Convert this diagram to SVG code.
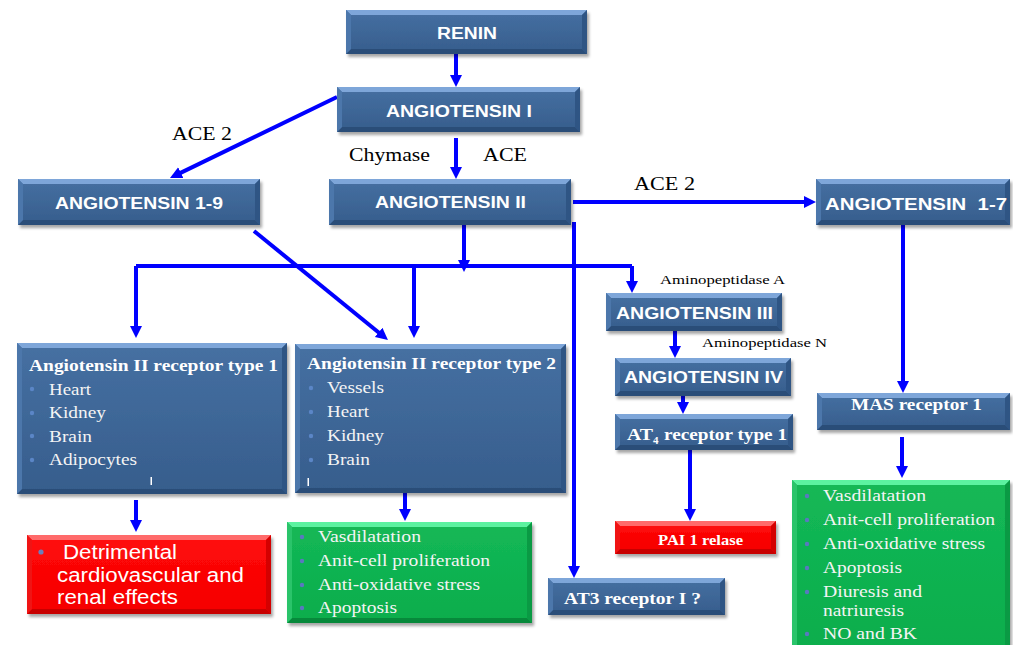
<svg xmlns="http://www.w3.org/2000/svg" width="1013" height="645" viewBox="0 0 1013 645">
<defs>
<linearGradient id="gBlue" x1="0" y1="0" x2="0" y2="1"><stop offset="0" stop-color="#4670a2"/><stop offset="1" stop-color="#365d8c"/></linearGradient>
<linearGradient id="gGreen" x1="0" y1="0" x2="0" y2="1"><stop offset="0" stop-color="#14b856"/><stop offset="1" stop-color="#0aad4c"/></linearGradient>
<linearGradient id="gRed" x1="0" y1="0" x2="0" y2="1"><stop offset="0" stop-color="#ff0a0a"/><stop offset="1" stop-color="#f50000"/></linearGradient>
<filter id="sh" x="-5%" y="-10%" width="115%" height="130%"><feDropShadow dx="2" dy="3" stdDeviation="1.5" flood-color="#000" flood-opacity="0.35"/></filter>
<marker id="ah" markerUnits="userSpaceOnUse" markerWidth="14" markerHeight="14" refX="2" refY="6" orient="auto"><path d="M0,0 L12,6 L0,12 z" fill="#0000ff"/></marker>
</defs>
<style>
.bb{fill:url(#gBlue)} .bt{fill:#7ea6d9} .bl{fill:#4c77ab} .br{fill:#2f5584} .bo{fill:#2a4d78}
.gb{fill:url(#gGreen)} .gt{fill:#5cf2a0} .gl{fill:#2ac46a} .gr{fill:#0a9a44} .go{fill:#07893b}
.rb{fill:url(#gRed)} .rt{fill:#ff6a6a} .rl{fill:#f01414} .rr{fill:#d40000} .ro{fill:#c80000}
.hd{font-family:"Liberation Sans",Arial,sans-serif;font-weight:bold;font-size:16px;fill:#ffffff}
.ttl{font-family:"Liberation Serif","Times New Roman",serif;font-weight:bold;font-size:17px;fill:#ffffff}
.it{font-family:"Liberation Serif","Times New Roman",serif;font-size:16px;fill:#f4f4f4}
.lb{font-family:"Liberation Serif","Times New Roman",serif;font-size:19px;fill:#000000}
.ap{font-family:"Liberation Serif","Times New Roman",serif;font-size:13.5px;fill:#000000}
.rd{font-family:"Liberation Sans",Arial,sans-serif;font-size:19.5px;fill:#ffffff}
.dot{fill:#5b86c6}
.dotg{fill:#5a78c0}
.cn{stroke:#0000ff;stroke-width:4;fill:none}
.ar{marker-end:url(#ah)}
.mk{fill:#ffffff}
</style>

<g id="connectors">
<path class="cn ar" d="M456,54 V77"/>
<path class="cn ar" d="M456,138 V169"/>
<path class="cn ar" d="M337,97 L179,173.6"/>
<path class="cn ar" d="M573,202 H806"/>
<path class="cn" d="M136,266 H632"/>
<path class="cn ar" d="M632,266 V283"/>
<path class="cn ar" d="M136,266 V328"/>
<path class="cn ar" d="M414,266 V328"/>
<path class="cn ar" d="M464,225 V262"/>
<path class="cn ar" d="M254,231 L380.2,333.7"/>
<path class="cn ar" d="M574,222 V568"/>
<path class="cn ar" d="M903,225 V383"/>
<path class="cn ar" d="M675,331 V348"/>
<path class="cn ar" d="M683,396 V404"/>
<path class="cn ar" d="M690,450 V511"/>
<path class="cn ar" d="M902,437 V468"/>
<path class="cn ar" d="M136,500 V522"/>
<path class="cn ar" d="M405,493 V511"/>
</g>

<g id="labels">
<text class="lb" x="172" y="140" textLength="60" lengthAdjust="spacingAndGlyphs">ACE 2</text>
<text class="lb" x="349" y="161" textLength="81" lengthAdjust="spacingAndGlyphs">Chymase</text>
<text class="lb" x="483" y="161" textLength="44" lengthAdjust="spacingAndGlyphs">ACE</text>
<text class="lb" x="634" y="190" textLength="61" lengthAdjust="spacingAndGlyphs">ACE 2</text>
<text class="ap" x="660" y="284" textLength="125" lengthAdjust="spacingAndGlyphs">Aminopeptidase A</text>
<text class="ap" x="702" y="347" textLength="125" lengthAdjust="spacingAndGlyphs">Aminopeptidase N</text>
</g>

<g id="renin">
<rect class="bb" x="346" y="10" width="241" height="44" filter="url(#sh)"/>
<polygon class="bt" points="346,10 587,10 582,15 351,15"/>
<polygon class="bo" points="346,54 587,54 582,49 351,49"/>
<polygon class="bl" points="346,10 351,15 351,49 346,54"/>
<polygon class="br" points="587,10 582,15 582,49 587,54"/>
<text class="hd" x="437" y="39" textLength="60" lengthAdjust="spacingAndGlyphs">RENIN</text>
</g>

<g id="ang1">
<rect class="bb" x="337" y="87" width="243" height="45" filter="url(#sh)"/>
<polygon class="bt" points="337,87 580,87 575,92 342,92"/>
<polygon class="bo" points="337,132 580,132 575,127 342,127"/>
<polygon class="bl" points="337,87 342,92 342,127 337,132"/>
<polygon class="br" points="580,87 575,92 575,127 580,132"/>
<text class="hd" x="386" y="117" textLength="146" lengthAdjust="spacingAndGlyphs">ANGIOTENSIN I</text>
</g>

<g id="ang19">
<rect class="bb" x="18" y="179" width="242" height="46" filter="url(#sh)"/>
<polygon class="bt" points="18,179 260,179 255,184 23,184"/>
<polygon class="bo" points="18,225 260,225 255,220 23,220"/>
<polygon class="bl" points="18,179 23,184 23,220 18,225"/>
<polygon class="br" points="260,179 255,184 255,220 260,225"/>
<text class="hd" x="55" y="209" textLength="168" lengthAdjust="spacingAndGlyphs">ANGIOTENSIN 1-9</text>
</g>

<g id="ang2">
<rect class="bb" x="329" y="179" width="242" height="46" filter="url(#sh)"/>
<polygon class="bt" points="329,179 571,179 566,184 334,184"/>
<polygon class="bo" points="329,225 571,225 566,220 334,220"/>
<polygon class="bl" points="329,179 334,184 334,220 329,225"/>
<polygon class="br" points="571,179 566,184 566,220 571,225"/>
<text class="hd" x="375" y="208" textLength="151" lengthAdjust="spacingAndGlyphs">ANGIOTENSIN II</text>
</g>

<g id="ang17">
<rect class="bb" x="816" y="179" width="194" height="46" filter="url(#sh)"/>
<polygon class="bt" points="816,179 1010,179 1005,184 821,184"/>
<polygon class="bo" points="816,225 1010,225 1005,220 821,220"/>
<polygon class="bl" points="816,179 821,184 821,220 816,225"/>
<polygon class="br" points="1010,179 1005,184 1005,220 1010,225"/>
<text class="hd" x="825" y="210" textLength="182" lengthAdjust="spacingAndGlyphs" xml:space="preserve">ANGIOTENSIN  1-7</text>
</g>

<g id="at1">
<rect class="bb" x="17" y="343" width="270" height="151" filter="url(#sh)"/>
<polygon class="bt" points="17,343 287,343 282,348 22,348"/>
<polygon class="bo" points="17,494 287,494 282,489 22,489"/>
<polygon class="bl" points="17,343 22,348 22,489 17,494"/>
<polygon class="br" points="287,343 282,348 282,489 287,494"/>
<text class="ttl" x="29" y="371" textLength="249" lengthAdjust="spacingAndGlyphs">Angiotensin II receptor type 1</text>
<circle class="dot" cx="32" cy="389" r="2.2"/>
<circle class="dot" cx="32" cy="413" r="2.2"/>
<circle class="dot" cx="32" cy="436" r="2.2"/>
<circle class="dot" cx="32" cy="460" r="2.2"/>
<text class="it" x="49" y="395" textLength="42" lengthAdjust="spacingAndGlyphs">Heart</text>
<text class="it" x="49" y="418" textLength="57" lengthAdjust="spacingAndGlyphs">Kidney</text>
<text class="it" x="49" y="442" textLength="43" lengthAdjust="spacingAndGlyphs">Brain</text>
<text class="it" x="49" y="465" textLength="88" lengthAdjust="spacingAndGlyphs">Adipocytes</text>
<rect class="mk" x="150.5" y="477" width="1.5" height="8"/>
</g>

<g id="at2">
<rect class="bb" x="295" y="344" width="271" height="149" filter="url(#sh)"/>
<polygon class="bt" points="295,344 566,344 561,349 300,349"/>
<polygon class="bo" points="295,493 566,493 561,488 300,488"/>
<polygon class="bl" points="295,344 300,349 300,488 295,493"/>
<polygon class="br" points="566,344 561,349 561,488 566,493"/>
<text class="ttl" x="307" y="369" textLength="249" lengthAdjust="spacingAndGlyphs">Angiotensin II receptor type 2</text>
<circle class="dot" cx="311" cy="388" r="2.2"/>
<circle class="dot" cx="311" cy="412" r="2.2"/>
<circle class="dot" cx="311" cy="436" r="2.2"/>
<circle class="dot" cx="311" cy="460" r="2.2"/>
<text class="it" x="327" y="393" textLength="57" lengthAdjust="spacingAndGlyphs">Vessels</text>
<text class="it" x="327" y="417" textLength="42" lengthAdjust="spacingAndGlyphs">Heart</text>
<text class="it" x="327" y="441" textLength="57" lengthAdjust="spacingAndGlyphs">Kidney</text>
<text class="it" x="327" y="465" textLength="43" lengthAdjust="spacingAndGlyphs">Brain</text>
<rect class="mk" x="307.5" y="478" width="1.5" height="8"/>
</g>

<g id="ang3">
<rect class="bb" x="606" y="293" width="176" height="38" filter="url(#sh)"/>
<polygon class="bt" points="606,293 782,293 777,298 611,298"/>
<polygon class="bo" points="606,331 782,331 777,326 611,326"/>
<polygon class="bl" points="606,293 611,298 611,326 606,331"/>
<polygon class="br" points="782,293 777,298 777,326 782,331"/>
<text class="hd" x="616" y="319" textLength="157" lengthAdjust="spacingAndGlyphs">ANGIOTENSIN III</text>
</g>

<g id="ang4">
<rect class="bb" x="615" y="358" width="176" height="38" filter="url(#sh)"/>
<polygon class="bt" points="615,358 791,358 786,363 620,363"/>
<polygon class="bo" points="615,396 791,396 786,391 620,391"/>
<polygon class="bl" points="615,358 620,363 620,391 615,396"/>
<polygon class="br" points="791,358 786,363 786,391 791,396"/>
<text class="hd" x="624" y="383" textLength="159" lengthAdjust="spacingAndGlyphs">ANGIOTENSIN IV</text>
</g>

<g id="at4">
<rect class="bb" x="615" y="414" width="178" height="36" filter="url(#sh)"/>
<polygon class="bt" points="615,414 793,414 788,419 620,419"/>
<polygon class="bo" points="615,450 793,450 788,445 620,445"/>
<polygon class="bl" points="615,414 620,419 620,445 615,450"/>
<polygon class="br" points="793,414 788,419 788,445 793,450"/>
<text class="ttl" x="627" y="440" textLength="26" lengthAdjust="spacingAndGlyphs">AT</text>
<text class="ttl" x="653" y="444" style="font-size:11px">4</text>
<text class="ttl" x="664" y="440" textLength="123" lengthAdjust="spacingAndGlyphs">receptor type 1</text>
</g>

<g id="mas">
<rect class="bb" x="817" y="393" width="193" height="37" filter="url(#sh)"/>
<polygon class="bt" points="817,393 1010,393 1005,398 822,398"/>
<polygon class="bo" points="817,430 1010,430 1005,425 822,425"/>
<polygon class="bl" points="817,393 822,398 822,425 817,430"/>
<polygon class="br" points="1010,393 1005,398 1005,425 1010,430"/>
<text class="ttl" x="851" y="410" textLength="131" lengthAdjust="spacingAndGlyphs">MAS receptor 1</text>
</g>

<g id="at3">
<rect class="bb" x="548" y="578" width="177" height="37" filter="url(#sh)"/>
<polygon class="bt" points="548,578 725,578 720,583 553,583"/>
<polygon class="bo" points="548,615 725,615 720,610 553,610"/>
<polygon class="bl" points="548,578 553,583 553,610 548,615"/>
<polygon class="br" points="725,578 720,583 720,610 725,615"/>
<text class="ttl" x="564" y="604" textLength="137" lengthAdjust="spacingAndGlyphs">AT3 receptor I ?</text>
</g>

<g id="detrimental">
<rect class="rb" x="27" y="535" width="244" height="79" filter="url(#sh)"/>
<polygon class="rt" points="27,535 271,535 266,540 32,540"/>
<polygon class="ro" points="27,614 271,614 266,609 32,609"/>
<polygon class="rl" points="27,535 32,540 32,609 27,614"/>
<polygon class="rr" points="271,535 266,540 266,609 271,614"/>
<circle cx="41" cy="552" r="2.6" fill="#6b7fbd"/>
<text class="rd" x="63" y="559" textLength="114" lengthAdjust="spacingAndGlyphs">Detrimental</text>
<text class="rd" x="57" y="582" textLength="187" lengthAdjust="spacingAndGlyphs">cardiovascular and</text>
<text class="rd" x="57" y="604" textLength="121" lengthAdjust="spacingAndGlyphs">renal effects</text>
</g>

<g id="effects2">
<rect class="gb" x="287" y="522" width="245" height="101" filter="url(#sh)"/>
<polygon class="gt" points="287,522 532,522 527,527 292,527"/>
<polygon class="go" points="287,623 532,623 527,618 292,618"/>
<polygon class="gl" points="287,522 292,527 292,618 287,623"/>
<polygon class="gr" points="532,522 527,527 527,618 532,623"/>
<circle class="dotg" cx="302" cy="537" r="2.2"/>
<circle class="dotg" cx="302" cy="561" r="2.2"/>
<circle class="dotg" cx="302" cy="585" r="2.2"/>
<circle class="dotg" cx="302" cy="608" r="2.2"/>
<text class="it" x="318" y="542" textLength="103" lengthAdjust="spacingAndGlyphs">Vasdilatation</text>
<text class="it" x="318" y="566" textLength="172" lengthAdjust="spacingAndGlyphs">Anit-cell proliferation</text>
<text class="it" x="318" y="590" textLength="162" lengthAdjust="spacingAndGlyphs">Anti-oxidative stress</text>
<text class="it" x="318" y="613" textLength="79" lengthAdjust="spacingAndGlyphs">Apoptosis</text>
</g>

<g id="pai">
<rect class="rb" x="615" y="521" width="161" height="33" filter="url(#sh)"/>
<polygon class="rt" points="615,521 776,521 771,526 620,526"/>
<polygon class="ro" points="615,554 776,554 771,549 620,549"/>
<polygon class="rl" points="615,521 620,526 620,549 615,554"/>
<polygon class="rr" points="776,521 771,526 771,549 776,554"/>
<text class="ttl" x="658" y="545" textLength="85" lengthAdjust="spacingAndGlyphs" style="font-size:15px">PAI 1 relase</text>
</g>

<g id="effects17">
<rect class="gb" x="792" y="480" width="218" height="175" filter="url(#sh)"/>
<polygon class="gt" points="792,480 1010,480 1005,485 797,485"/>
<polygon class="gl" points="792,480 797,485 797,655 792,655"/>
<polygon class="gr" points="1010,480 1005,485 1005,655 1010,655"/>
<circle class="dotg" cx="807" cy="496" r="2.2"/>
<circle class="dotg" cx="807" cy="520" r="2.2"/>
<circle class="dotg" cx="807" cy="544" r="2.2"/>
<circle class="dotg" cx="807" cy="568" r="2.2"/>
<circle class="dotg" cx="807" cy="592" r="2.2"/>
<circle class="dotg" cx="807" cy="634" r="2.2"/>
<text class="it" x="823" y="501" textLength="103" lengthAdjust="spacingAndGlyphs">Vasdilatation</text>
<text class="it" x="823" y="525" textLength="172" lengthAdjust="spacingAndGlyphs">Anit-cell proliferation</text>
<text class="it" x="823" y="549" textLength="162" lengthAdjust="spacingAndGlyphs">Anti-oxidative stress</text>
<text class="it" x="823" y="573" textLength="79" lengthAdjust="spacingAndGlyphs">Apoptosis</text>
<text class="it" x="823" y="597" textLength="99" lengthAdjust="spacingAndGlyphs">Diuresis and</text>
<text class="it" x="823" y="616" textLength="81" lengthAdjust="spacingAndGlyphs">natriuresis</text>
<text class="it" x="823" y="639" textLength="94" lengthAdjust="spacingAndGlyphs">NO and BK</text>
</g>
</svg>
